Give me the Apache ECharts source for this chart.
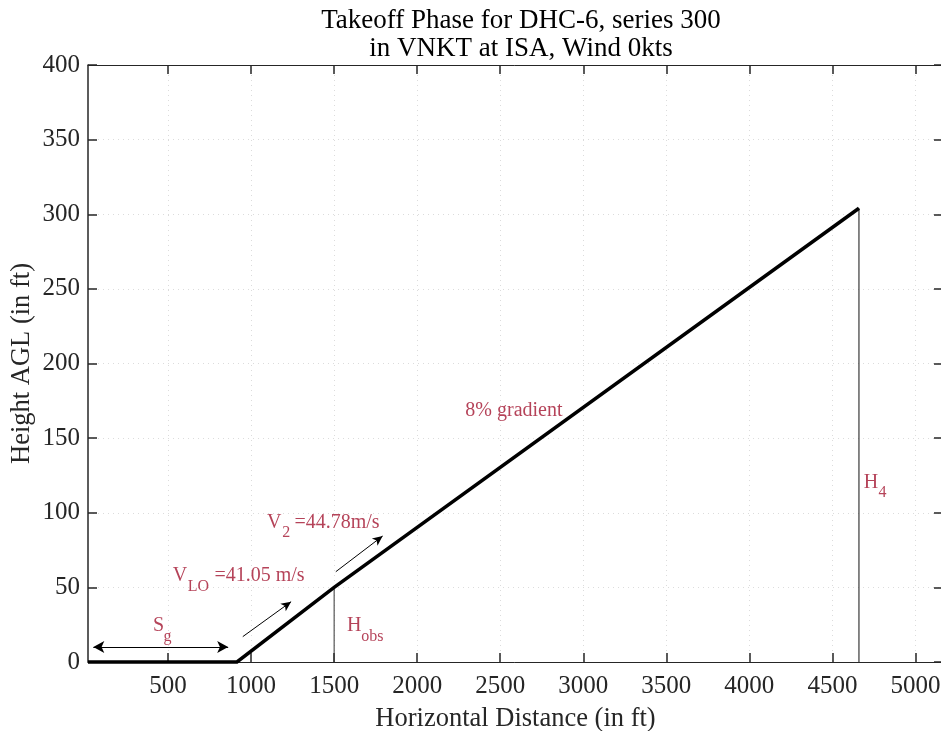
<!DOCTYPE html>
<html>
<head>
<meta charset="utf-8">
<title>Takeoff Phase for DHC-6</title>
<script src="https://cdn.jsdelivr.net/npm/echarts@6/dist/echarts.min.js"></script>
<style>
  html, body { margin: 0; padding: 0; background: #ffffff; }
  #chart { width: 941px; height: 731px; }
</style>
</head>
<body>
<div id="chart"></div>
<script>
// Axis ranges and tick values
const xRange = [18, 5166];
const xTickValues = [500, 1000, 1500, 2000, 2500, 3000, 3500, 4000, 4500, 5000];
const yRange = [0, 400];
const yTickStep = 50;

// Flight path: ground roll, rotation/lift-off segment, climb at 8% gradient
const pathX = [18, 915, 1500, 4660];
const pathY = [0, 0, 50, 304];

// Vertical reference lines (obstacle height and final height)
const hObsX = [1500, 1500];
const hObsY = [0, 50];
const h4X = [4660, 4660];
const h4Y = [0, 304];

// Annotation arrows: [x1, y1, x2, y2, doubleHeaded]
const arrowSg = [50, 10, 862, 10, true];
const arrowVlo = [950, 17, 1241, 40.4, false];
const arrowV2 = [1510, 60.5, 1792, 84.4, false];

// Annotation text pieces: text, x, y, subscript flag
const noteText = ['S', 'g', 'V', 'LO', '=41.05 m/s', 'V', '2', '=44.78m/s', 'H', 'obs', 'H', '4', '8% gradient'];
const noteX    = [409, 472, 529, 618, 779, 1096, 1187, 1261, 1578, 1664, 4689, 4777, 2290];
const noteY    = [24.1, 16.8, 57.6, 50.3, 57.6, 93.1, 86.4, 93.1, 24.1, 16.8, 119.9, 113.2, 168.4];
const noteSub  = [false, true, false, true, false, false, true, false, false, true, false, true, false];

const SERIF = "'Liberation Serif', 'Times New Roman', Times, serif";
const AXIS_COLOR = '#262626';
const NOTE_COLOR = '#A2142F';
const GRID_COLOR = '#dcdcdc';

const chart = echarts.init(document.getElementById('chart'), null, { renderer: 'canvas' });

function zipXY(xs, ys) {
  return xs.map((x, i) => [x, ys[i]]);
}

function arrowLine(a) {
  return [
    { coord: [a[0], a[1]], symbol: a[4] ? 'arrow' : 'none', symbolSize: [9, 11] },
    { coord: [a[2], a[3]], symbol: 'arrow', symbolSize: a[4] ? [9, 11] : [7, 10] }
  ];
}

const plainNumber = (v) => String(v);

const notes = noteText.map((t, i) => ({
  value: [noteX[i], noteY[i]],
  label: {
    formatter: t,
    fontSize: noteSub[i] ? 16 : 20
  }
}));

const option = {
  animation: false,
  backgroundColor: '#ffffff',
  title: {
    text: 'Takeoff Phase for DHC-6, series 300\nin VNKT at ISA, Wind 0kts',
    left: 516,
    top: 2,
    textAlign: 'center',
    textStyle: {
      fontFamily: SERIF,
      fontSize: 27,
      fontWeight: 'normal',
      color: '#000000',
      lineHeight: 28
    }
  },
  grid: {
    left: 88,
    top: 65,
    width: 855,
    height: 597,
    containLabel: false,
    outerBoundsMode: 'none'
  },
  xAxis: [
    {
      type: 'value',
      position: 'bottom',
      min: xRange[0],
      max: xRange[1],
      name: 'Horizontal Distance (in ft)',
      nameLocation: 'middle',
      nameGap: 57,
      nameMoveOverlap: false,
      nameTextStyle: { fontFamily: SERIF, fontSize: 26.5, color: AXIS_COLOR, verticalAlign: 'middle' },
      axisLine: { show: true, onZero: false, lineStyle: { color: AXIS_COLOR, width: 1 } },
      axisTick: { show: true, inside: true, length: 9, customValues: xTickValues, lineStyle: { color: AXIS_COLOR, width: 1.5 } },
      axisLabel: { show: true, margin: 12, customValues: xTickValues, formatter: plainNumber, fontFamily: SERIF, fontSize: 25, color: AXIS_COLOR },
      splitLine: { show: true, lineStyle: { color: GRID_COLOR, type: [1, 4], width: 1 } }
    },
    {
      type: 'value',
      position: 'top',
      min: xRange[0],
      max: xRange[1],
      axisLine: { show: true, onZero: false, lineStyle: { color: AXIS_COLOR, width: 1 } },
      axisTick: { show: true, inside: true, length: 9, customValues: xTickValues, lineStyle: { color: AXIS_COLOR, width: 1.5 } },
      axisLabel: { show: false },
      splitLine: { show: false }
    }
  ],
  yAxis: [
    {
      type: 'value',
      position: 'left',
      min: yRange[0],
      max: yRange[1],
      interval: yTickStep,
      name: 'Height AGL (in ft)',
      nameLocation: 'middle',
      nameGap: 66,
      nameMoveOverlap: false,
      nameRotate: 90,
      nameTextStyle: { fontFamily: SERIF, fontSize: 26.5, color: AXIS_COLOR, verticalAlign: 'middle' },
      axisLine: { show: true, onZero: false, lineStyle: { color: AXIS_COLOR, width: 1.5 } },
      axisTick: { show: true, inside: true, length: 9, lineStyle: { color: AXIS_COLOR, width: 1.5 } },
      axisLabel: { show: true, margin: 8, formatter: plainNumber, fontFamily: SERIF, fontSize: 25, color: AXIS_COLOR },
      splitLine: { show: true, lineStyle: { color: GRID_COLOR, type: [1, 4], width: 1 } }
    },
    {
      type: 'value',
      position: 'right',
      min: yRange[0],
      max: yRange[1],
      interval: yTickStep,
      axisLine: { show: true, onZero: false, lineStyle: { color: AXIS_COLOR, width: 1 } },
      axisTick: { show: true, inside: true, length: 9, lineStyle: { color: AXIS_COLOR, width: 1.5 } },
      axisLabel: { show: false },
      splitLine: { show: false }
    }
  ],
  series: [
    {
      name: 'H_obs',
      type: 'line',
      data: zipXY(hObsX, hObsY),
      showSymbol: false,
      symbol: 'none',
      lineStyle: { color: '#333333', width: 1 },
      silent: true,
      z: 3
    },
    {
      name: 'H_4',
      type: 'line',
      data: zipXY(h4X, h4Y),
      showSymbol: false,
      symbol: 'none',
      lineStyle: { color: '#111111', width: 1 },
      silent: true,
      z: 3
    },
    {
      name: 'Flight path',
      type: 'line',
      data: zipXY(pathX, pathY),
      showSymbol: false,
      symbol: 'none',
      clip: false,
      lineStyle: { color: '#000000', width: 3.5, join: 'miter' },
      silent: true,
      z: 5
    },
    {
      name: 'Annotations',
      type: 'scatter',
      data: notes,
      symbolSize: 0,
      silent: true,
      z: 6,
      label: {
        show: true,
        position: 'right',
        distance: 0,
        fontFamily: SERIF,
        color: NOTE_COLOR
      },
      markLine: {
        silent: true,
        animation: false,
        label: { show: false },
        lineStyle: { color: '#000000', width: 1, type: 'solid' },
        emphasis: { disabled: true },
        data: [arrowLine(arrowSg), arrowLine(arrowVlo), arrowLine(arrowV2)]
      }
    }
  ]
};

chart.setOption(option);
</script>
</body>
</html>
